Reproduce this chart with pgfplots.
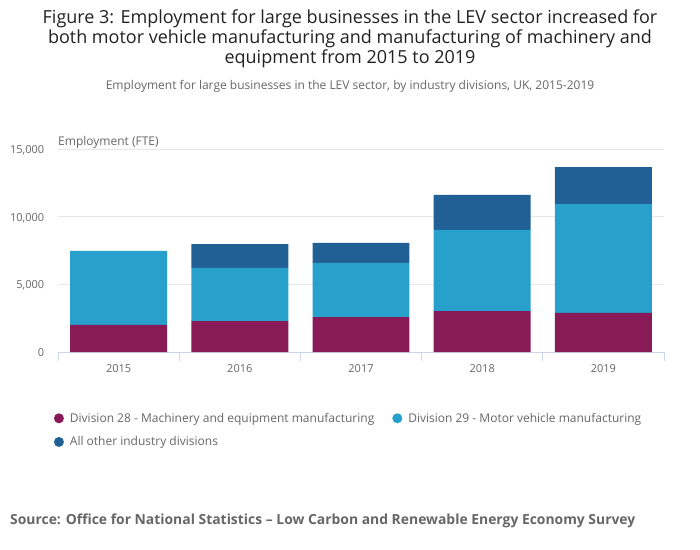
\documentclass[border=0pt]{standalone}
\usepackage{pgfplots}
\pgfplotsset{compat=1.18}
\usepackage{fontspec}
\setmainfont{Open Sans}
\definecolor{divA}{HTML}{881A58}
\definecolor{divB}{HTML}{27A0CC}
\definecolor{divC}{HTML}{206095}
\definecolor{txtgray}{HTML}{666666}
\definecolor{gridgray}{HTML}{E6E6E6}
\definecolor{axisblue}{HTML}{CCD6EB}
\begin{document}
\begin{tikzpicture}
\path[use as bounding box] (0pt,0pt) rectangle (700pt,-549pt);
% titles
\node[align=center, text=black!87, font=\fontsize{18}{20}\selectfont] at (350pt,-39pt)
  {Figure 3: Employment for large businesses in the LEV sector increased for\\
   both motor vehicle manufacturing and manufacturing of machinery and\\
   equipment from 2015 to 2019};
\node[text=txtgray, font=\fontsize{12}{14}\selectfont] at (350pt,-86pt)
  {Employment for large businesses in the LEV sector, by industry divisions, UK, 2015-2019};
\node[anchor=west, text=txtgray, font=\fontsize{12}{14}\selectfont, inner sep=0pt] at (58pt,-142pt) {Employment (FTE)};
\node[anchor=west, text=txtgray, font=\fontsize{13.9}{16}\selectfont\bfseries, inner sep=0pt] at (10pt,-521pt)
  {Source: Office for National Statistics – Low Carbon and Renewable Energy Economy Survey};

\begin{axis}[
    at={(58pt,-352pt)}, anchor=south west,
    scale only axis,
    width=606pt, height=202.7pt,
    ybar stacked,
    bar width=0.8,
    xmin=-0.5, xmax=4.5,
    ymin=0, ymax=15000,
    xtick={0,1,2,3,4},
    xticklabels={2015,2016,2017,2018,2019},
    minor xtick={-0.5,0.5,1.5,2.5,3.5,4.5},
    major x tick style={draw=none},
    minor x tick style={draw=axisblue, line width=1pt},
    minor tick length=9pt,
    tick align=outside,
    ytick={0,5000,10000,15000},
    ytick style={draw=none},
    scaled y ticks=false,
    /pgf/number format/.cd, 1000 sep={,}, assume math mode=true, /pgfplots/.cd,
    ymajorgrids,
    major grid style={draw=gridgray, line width=0.8pt},
    axis x line*=bottom,
    axis y line*=left,
    x axis line style={draw=axisblue, line width=1pt},
    y axis line style={draw=none},
    tick label style={text=txtgray, font=\fontsize{11}{13}\selectfont},
    xticklabel style={yshift=-5pt},
    yticklabel style={xshift=-6pt, yshift=-1pt},
    legend columns=2,
    legend style={draw=none, fill=none, at={(-0.012,-0.28)}, anchor=north west,
      font=\fontsize{12}{14}\selectfont, text=txtgray,
      /tikz/every even column/.append style={column sep=16pt},
      row sep=9pt},
    legend cell align=left,
    legend image code/.code={\fill[#1] (0pt,0pt) circle (5pt); \path (9pt,0pt);},
]
\addplot[fill=divA, draw=none] coordinates {(0,2000) (1,2290) (2,2590) (3,3030) (4,2890)};
\addplot[fill=divB, draw=none] coordinates {(0,5480) (1,3930) (2,4000) (3,6000) (4,8060)};
\addplot[fill=divC, draw=none] coordinates {(0,0) (1,1770) (2,1480) (3,2590) (4,2740)};
\legend{Division 28 - Machinery and equipment manufacturing,
        Division 29 - Motor vehicle manufacturing,
        All other industry divisions}
\end{axis}
\end{tikzpicture}
\end{document}
